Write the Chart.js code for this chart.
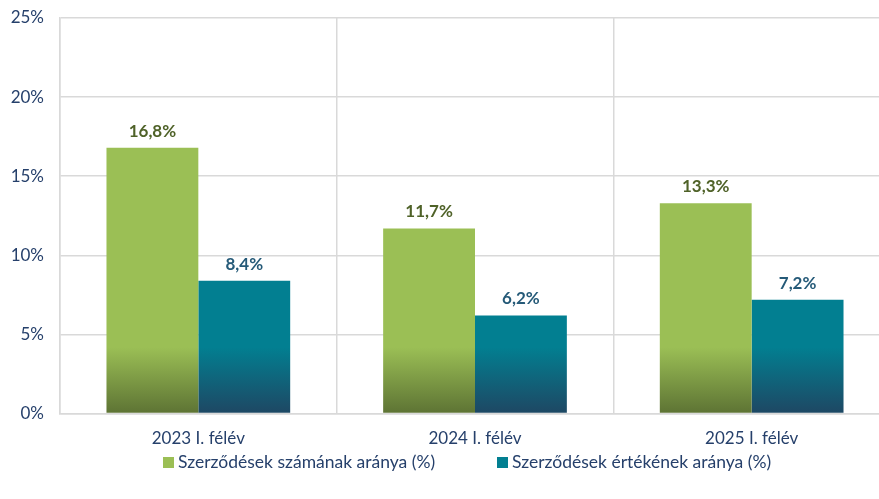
<!DOCTYPE html>
<html>
<head>
<meta charset="utf-8">
<script src="https://cdn.jsdelivr.net/npm/chart.js@4"></script>
<style>
  html, body { margin: 0; padding: 0; background: #fff; overflow: hidden; }
  #wrap { position: relative; width: 892px; height: 499px; }
  .legend { position: absolute; top: 452px; left: 0; width: 879px; height: 20px;
            font: 17.5px Lato, "Open Sans", sans-serif; color: #26406b; }
  .legend span { position: absolute; top: 0; white-space: nowrap; line-height: 20px; }
  .legend i { display: inline-block; width: 11px; height: 11px; margin-right: 4px; vertical-align: 0px; }
</style>
</head>
<body>
<div id="wrap"><canvas id="chart"></canvas></div>
<div class="legend" id="legend"></div>
<script>
// ── Data ─────────────────────────────────────────────────────────────────────

const CATEGORIES = ['2023 I. félév', '2024 I. félév', '2025 I. félév'];
const SERIES_NAMES = ['Szerződések számának aránya (%)', 'Szerződések értékének aránya (%)'];
const COUNT_SHARE = [16.8, 11.7, 13.3];
const VALUE_SHARE = [8.4, 6.2, 7.2];
const Y_TICKS = [0, 5, 10, 15, 20, 25];

const C_GREEN      = '#9bbf55';
const C_GREEN_DARK = '#5d7334';
const C_TEAL       = '#027f91';
const C_TEAL_DARK  = '#1e4763';
const C_GRID       = '#d9d9d9';
const C_AXIS_TEXT  = '#26406b';
const FONT = 'Lato, "Open Sans", sans-serif';

function huComma(v) { return v.toFixed(1).replace('.', ',') + '%'; }

// gradient at the bottom of the plot, same band for every bar
function bottomGradient(top, bottom) {
  return ctx => {
    const { chart } = ctx;
    const area = chart.chartArea;
    if (!area) return top;
    const y = chart.scales.y;
    const g = chart.ctx.createLinearGradient(0, y.getPixelForValue(4.2), 0, area.bottom);
    g.addColorStop(0, top);
    g.addColorStop(1, bottom);
    return g;
  };
}

// value labels above bars
const barLabels = {
  id: 'barLabels',
  afterDatasetsDraw(chart) {
    const c = chart.ctx;
    chart.data.datasets.forEach((ds, i) => {
      chart.getDatasetMeta(i).data.forEach((bar, j) => {
        c.save();
        c.font = 'bold 17px ' + FONT;
        c.fillStyle = ds.labelColor;
        c.textAlign = 'center';
        c.textBaseline = 'bottom';
        c.fillText(huComma(ds.data[j]), bar.x, bar.y - 8);
        c.restore();
      });
    });
  }
};

new Chart(document.getElementById('chart'), {
  type: 'bar',
  data: {
    labels: CATEGORIES,
    datasets: [
      {
        label: SERIES_NAMES[0],
        data: COUNT_SHARE,
        backgroundColor: bottomGradient(C_GREEN, C_GREEN_DARK),
        labelColor: '#4f6228',
        categoryPercentage: 0.664,
        barPercentage: 1.0,
      },
      {
        label: SERIES_NAMES[1],
        data: VALUE_SHARE,
        backgroundColor: bottomGradient(C_TEAL, C_TEAL_DARK),
        labelColor: '#255a78',
        categoryPercentage: 0.664,
        barPercentage: 1.0,
      }
    ]
  },
  options: {
    responsive: true,
    maintainAspectRatio: false,
    animation: false,
    layout: { padding: { top: 0, right: 2, left: 0, bottom: 35 } },
    plugins: {
      tooltip: { enabled: false },
      legend: { display: false }
    },
    scales: {
      x: {
        grid: { color: C_GRID, lineWidth: 1.5, offset: true, drawTicks: false },
        border: { color: C_GRID, width: 1.5 },
        ticks: { color: C_AXIS_TEXT, font: { family: FONT, size: 17 }, padding: 15 }
      },
      y: {
        min: 0,
        max: 25,
        afterBuildTicks: axis => { axis.ticks = Y_TICKS.map(v => ({ value: v })); },
        afterFit: axis => { axis.width = 60; axis.paddingTop = 18; axis.paddingBottom = 0; },
        grid: { color: C_GRID, lineWidth: 1.5, drawTicks: false },
        border: { color: C_GRID, width: 1.5 },
        ticks: {
          color: C_AXIS_TEXT,
          font: { family: FONT, size: 17 },
          padding: 16,
          callback: v => v + '%'
        }
      }
    }
  },
  plugins: [barLabels]
});

// legend (html, two entries)
const LEGEND_LEFT = [163, 497];
const legendColors = [C_GREEN, C_TEAL];
const legendEl = document.getElementById('legend');
SERIES_NAMES.forEach((name, i) => {
  const s = document.createElement('span');
  s.style.left = LEGEND_LEFT[i] + 'px';
  s.innerHTML = '<i style="background:' + legendColors[i] + '"></i>';
  s.appendChild(document.createTextNode(name));
  legendEl.appendChild(s);
});
</script>
</body>
</html>
